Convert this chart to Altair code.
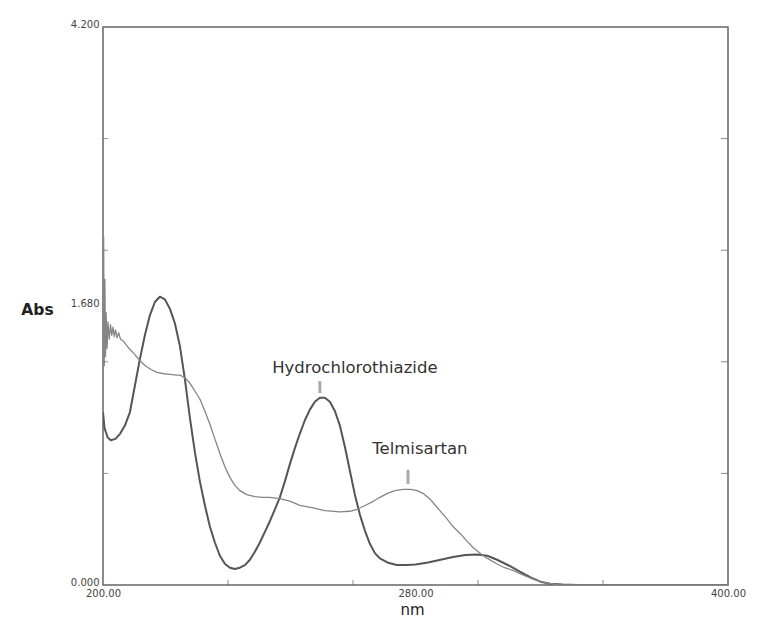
import altair as alt
import pandas as pd

# Hydrochlorothiazide spectrum (nm, Abs)
hctz_nm = [200.0, 200.5, 201.5, 202.5, 204.0, 205.5, 207.0, 208.6, 210.2, 211.8, 213.4, 215.0, 216.6,
           218.2, 219.8, 221.4, 223.0, 224.6, 226.2, 227.8, 229.4, 231.0, 232.6, 234.2, 235.8, 237.4,
           239.0, 240.6, 242.2, 243.8, 245.4, 247.0, 248.6, 250.2, 251.8, 253.4, 255.0, 256.6, 258.2,
           259.8, 261.4, 263.0, 264.6, 266.2, 267.8, 269.4, 271.0, 272.6, 274.2, 275.8, 277.4, 279.0,
           280.6, 282.2, 283.8, 285.4, 287.0, 288.6, 291.0, 294.0, 297.0, 300.0, 304.0, 308.0, 312.0,
           316.0, 319.7, 323.0, 326.1, 330.0, 333.4, 337.0, 340.0, 343.0, 347.0, 352.0, 400.0]
hctz_abs = [1.30, 1.18, 1.11, 1.09, 1.10, 1.14, 1.20, 1.30, 1.50, 1.70, 1.88, 2.03, 2.13,
            2.17, 2.15, 2.08, 1.97, 1.80, 1.55, 1.26, 1.00, 0.78, 0.60, 0.44, 0.32, 0.22,
            0.16, 0.13, 0.12, 0.13, 0.15, 0.19, 0.25, 0.32, 0.40, 0.48, 0.57, 0.66, 0.78,
            0.91, 1.03, 1.14, 1.24, 1.32, 1.38, 1.41, 1.41, 1.38, 1.31, 1.20, 1.04, 0.86,
            0.68, 0.53, 0.41, 0.31, 0.24, 0.20, 0.17, 0.15, 0.15, 0.155, 0.17, 0.19, 0.21,
            0.225, 0.23, 0.22, 0.19, 0.145, 0.10, 0.055, 0.025, 0.01, 0.003, 0.0, 0.0]

# Telmisartan spectrum (nm, Abs)
telm_nm = [200.0, 200.2, 200.4, 200.6, 200.8, 201.0, 201.3, 201.6, 202.0, 202.4, 202.8, 203.2, 203.6,
           204.0, 204.5, 205.0, 205.6, 206.4, 208.0, 210.0, 211.8, 213.5, 215.5, 217.3, 219.5, 221.5,
           223.5, 224.6, 226.2, 227.8, 229.4, 231.0, 232.6, 234.2, 235.8, 237.4, 239.0, 240.6, 242.2,
           243.8, 246.0, 248.6, 251.0, 253.4, 256.6, 260.0, 263.0, 267.2, 271.0, 275.8, 279.0, 281.3,
           284.0, 286.5, 288.6, 291.0, 293.5, 296.0, 298.5, 300.5, 302.4, 304.5, 306.0, 307.8, 310.0,
           312.0, 314.2, 316.5, 318.5, 320.6, 323.0, 326.0, 328.5, 331.2, 334.0, 337.0, 340.0, 342.0,
           346.0, 350.0, 400.0]
telm_abs = [1.70, 2.62, 1.65, 2.30, 1.72, 2.05, 1.78, 1.98, 1.85, 1.96, 1.88, 1.94, 1.87,
            1.92, 1.86, 1.90, 1.85, 1.84, 1.79, 1.74, 1.69, 1.65, 1.62, 1.60, 1.59, 1.585,
            1.58, 1.58, 1.56, 1.52, 1.46, 1.40, 1.31, 1.21, 1.10, 0.99, 0.89, 0.81, 0.75,
            0.71, 0.68, 0.665, 0.66, 0.66, 0.65, 0.63, 0.60, 0.58, 0.56, 0.55, 0.555, 0.57,
            0.60, 0.63, 0.66, 0.69, 0.71, 0.72, 0.72, 0.71, 0.69, 0.65, 0.61, 0.56, 0.50,
            0.44, 0.39, 0.33, 0.28, 0.24, 0.20, 0.16, 0.13, 0.11, 0.08, 0.05, 0.025, 0.015,
            0.0, 0.0, 0.0]

compounds = ["Hydrochlorothiazide", "Telmisartan"]
line_colors = ["#555555", "#858585"]

# axis ticks (inward) and labels as printed by the instrument
x_ticks = [240, 280, 320, 360]
y_ticks = [0.84, 1.68, 2.52, 3.36]
x_label_vals = [200, 300, 400]
y_label_vals = [0.0, 2.1, 4.2]

# annotations: label text position and marker position
ann_text = ["Hydrochlorothiazide", "Telmisartan"]
ann_text_x = [280.6, 301.4]
ann_text_y = [1.63, 1.02]
ann_mark_x = [269.4, 297.6]
ann_mark_y1 = [1.445, 0.76]
ann_mark_y2 = [1.535, 0.866]

df = pd.concat([
    pd.DataFrame({"nm": hctz_nm, "abs": hctz_abs, "compound": compounds[0]}),
    pd.DataFrame({"nm": telm_nm, "abs": telm_abs, "compound": compounds[1]}),
])
ann = pd.DataFrame({"text": ann_text, "tx": ann_text_x, "ty": ann_text_y,
                    "mx": ann_mark_x, "my1": ann_mark_y1, "my2": ann_mark_y2})

xscale = alt.Scale(domain=[200, 400], nice=False, zero=False)
yscale = alt.Scale(domain=[0, 4.2], nice=False)

lines = alt.Chart(df).mark_line(strokeJoin="round", clip=True).encode(
    x=alt.X("nm:Q", scale=xscale,
            axis=alt.Axis(values=x_label_vals, ticks=False, domain=False, grid=False, labelFlush=False,
                          labelExpr="datum.value == 300 ? '280.00' : format(datum.value, '.2f')",
                          labelFontSize=10, labelColor="#444", labelPadding=3, labelFont="DejaVu Sans",
                          title="nm", titleFontSize=15, titleFontWeight="normal", titleColor="#222",
                          titleX=309, titleY=29, titleBaseline="alphabetic", titleFont="DejaVu Sans")),
    y=alt.Y("abs:Q", scale=yscale,
            axis=alt.Axis(values=y_label_vals, ticks=False, domain=False, grid=False, labelFlush=False,
                          labelExpr="datum.value == 2.1 ? '1.680' : format(datum.value, '.3f')",
                          labelFontSize=10, labelColor="#444", labelPadding=4, labelOffset=-3,
                          labelFont="DejaVu Sans",
                          title="Abs", titleAngle=0, titleFontSize=15.5, titleFontWeight="bold",
                          titleColor="#222", titleX=-66, titleY=282, titleAlign="center",
                          titleBaseline="middle", titleFont="DejaVu Sans")),
    color=alt.Color("compound:N", scale=alt.Scale(domain=compounds, range=line_colors), legend=None),
    strokeWidth=alt.StrokeWidth("compound:N", scale=alt.Scale(domain=compounds, range=[2.0, 1.3]),
                                legend=None),
)

xt = alt.Chart(pd.DataFrame({"v": x_ticks, "b": [0.0] * len(x_ticks)})).mark_tick(
    orient="vertical", size=10, thickness=1, color="#555", clip=True).encode(
    x=alt.X("v:Q", scale=xscale), y=alt.Y("b:Q", scale=yscale))

yt_right = alt.Chart(pd.DataFrame({"v": y_ticks, "e": [400.0] * len(y_ticks)})).mark_tick(
    orient="horizontal", size=14, thickness=1, color="#555", clip=True).encode(
    x=alt.X("e:Q", scale=xscale), y=alt.Y("v:Q", scale=yscale))

yt_left = alt.Chart(pd.DataFrame({"v": y_ticks, "e": [200.0] * len(y_ticks)})).mark_tick(
    orient="horizontal", size=10, thickness=1, color="#666", clip=True).encode(
    x=alt.X("e:Q", scale=xscale), y=alt.Y("v:Q", scale=yscale))

markers = alt.Chart(ann).mark_rule(color="#aaaaaa", strokeWidth=3).encode(
    x=alt.X("mx:Q", scale=xscale), y=alt.Y("my1:Q", scale=yscale), y2="my2:Q")

labels = alt.Chart(ann).mark_text(font="DejaVu Sans", fontSize=16.5, color="#333",
                                  align="center", baseline="middle").encode(
    x=alt.X("tx:Q", scale=xscale), y=alt.Y("ty:Q", scale=yscale), text="text:N")

chart = alt.layer(lines, xt, yt_right, yt_left, markers, labels).properties(
    width=625, height=558,
    autosize=alt.AutoSizeParams(type="none"),
    padding={"left": 95, "top": 19, "right": 20, "bottom": 33},
    background="white",
).configure_view(stroke="#666666", strokeWidth=1.5)

chart.save("out.html", embed_options={"renderer": "svg", "actions": False})
